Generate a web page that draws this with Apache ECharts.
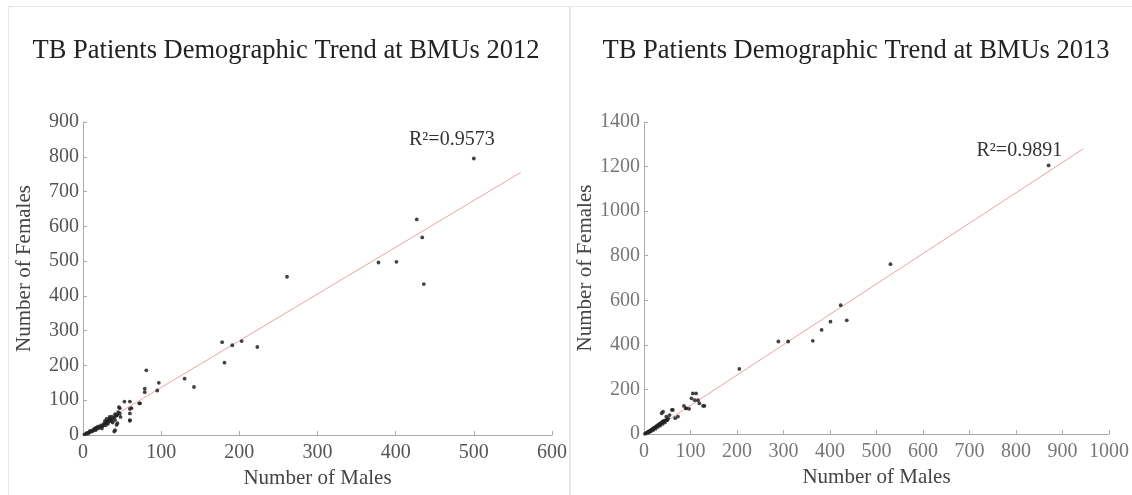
<!DOCTYPE html>
<html>
<head>
<meta charset="utf-8">
<script src="https://cdn.jsdelivr.net/npm/echarts@6/dist/echarts.min.js"></script>
<style>
html,body{margin:0;padding:0;background:#fff;}
#chart{width:1132px;height:495px;}
</style>
</head>
<body>
<div id="chart"></div>
<script>
// ---- Data ----
var titles = ['TB Patients Demographic Trend at BMUs 2012', 'TB Patients Demographic Trend at BMUs 2013'];
var xAxisName = 'Number of Males';
var yAxisName = 'Number of Females';
var r2Labels = ['R\u00B2=0.9573', 'R\u00B2=0.9891'];

// 2012: [males, females]
var points2012 = [
  [500,795],[427,620],[434,568],[436,434],[378,496],[401,498],[261,455],
  [178,267],[191,258],[203,270],[223,253],[181,208],[130,162],[142,138],
  [97,150],[95,128],[81,186],[79,133],[79,123],[72,91],[53,96],[60,96],
  [60,75],[60,41],[46,80],[41,60],[40,10],[62,77],[60,62],[60,43],[73,91],
  [7,5],[11,10],[13,14],[15,19],[17,21],[22,24],[26,29],[28,34],[30,38],
  [32,43],[34,48],[37,53],[32,32],[24,19],[41,43],[43,29],[41,14],[47,62],
  [47,77],[43,57],[2,2],[4,3],[5,6],[8,8],[9,12],[12,11],[14,16],[16,14],
  [18,18],[19,24],[20,20],[23,27],[25,25],[27,31],[29,28],[31,36],[33,40],
  [35,44],[36,39],[38,46],[40,50],[42,55],[44,58],[45,66],[28,40],[30,46],
  [34,52],[38,36],[44,34],[48,52]
];
var trend2012 = [[0,2],[560,755]];
var r2Pos2012 = [533,848];

// 2013: [males, females]
var points2013 = [
  [870,1205],[530,762],[423,578],[401,504],[436,510],[382,467],[363,418],
  [310,415],[289,415],[205,292],[105,182],[102,160],[109,152],[127,126],
  [90,115],[86,126],[60,108],[38,93],[48,78],[67,71],[41,100],[62,108],
  [91,115],[112,182],[116,152],[119,138],[130,126],[97,113],[73,78],[55,85],
  [48,63],
  [2,1],[4,4],[6,5],[8,9],[10,10],[12,14],[14,15],[16,20],[18,22],[20,25],
  [22,28],[24,30],[26,34],[28,36],[30,40],[32,42],[34,46],[36,48],[38,52],
  [40,55],[42,58],[44,60],[15,12],[20,18],[25,24],[30,32],[35,38],[40,45],
  [9,6],[12,10],[45,52],[50,62],[52,70]
];
var trend2013 = [[6,0],[945,1280]];
var r2Pos2013 = [910,1270];

var xTicks = [[0,600,100],[0,1000,100]];
var yTicks = [[0,900,100],[0,1400,200]];

// ---- Chart ----
var chart = echarts.init(document.getElementById('chart'), null, {renderer:'canvas'});
var serif = 'Liberation Serif, Times New Roman, serif';
var grids = [
  {left:83, top:122, width:469, height:313},
  {left:644, top:122, width:470, height:312}
];
var labelColors = ['#555','#777'];
function plain(v){ return String(v); }

function xAxis(i){
  return {
    gridIndex:i, type:'value', min:xTicks[i][0], max:xTicks[i][1], interval:xTicks[i][2],
    name:xAxisName, nameLocation:'middle', nameGap:28,
    nameTextStyle:{fontFamily:serif, fontSize:21, color:'#444'},
    axisLine:{lineStyle:{color:'#aaa', width:1}},
    axisTick:{inside:true, length:4, lineStyle:{color:'#aaa'}},
    axisLabel:{fontFamily:serif, fontSize:20, color:labelColors[i], margin:8, formatter:plain},
    splitLine:{show:false}
  };
}
function yAxis(i){
  return {
    gridIndex:i, type:'value', min:yTicks[i][0], max:yTicks[i][1], interval:yTicks[i][2],
    name:yAxisName, nameLocation:'middle', nameGap:48,
    nameTextStyle:{fontFamily:serif, fontSize:21, color:'#444', padding:[0,0,0,20]},
    axisLine:{show:true, lineStyle:{color:'#aaa', width:1}},
    axisTick:{show:true, inside:true, length:4, lineStyle:{color:'#aaa'}},
    axisLabel:{fontFamily:serif, fontSize:20, color:labelColors[i], margin:4, formatter:plain},
    splitLine:{show:false}
  };
}
function scatter(i, data){
  return {type:'scatter', xAxisIndex:i, yAxisIndex:i, data:data, symbolSize:3.8,
    itemStyle:{color:'#222', opacity:0.85}, silent:true, z:3};
}
function trend(i, data, label, pos){
  return {type:'line', xAxisIndex:i, yAxisIndex:i, data:data, symbol:'none', silent:true,
    lineStyle:{color:'#e9a3a3', width:1}, z:2,
    markPoint:{symbol:'circle', symbolSize:0, silent:true,
      data:[{coord:pos}],
      label:{show:true, formatter:label, fontFamily:serif, fontSize:20, color:'#333',
        position:'left'}}
  };
}

chart.setOption({
  backgroundColor:'#fff',
  animation:false,
  title:[
    {text:titles[0], left:281, top:33, textAlign:'center', textStyle:{fontFamily:serif, fontSize:26.5, fontWeight:'normal', color:'#222'}},
    {text:titles[1], left:851, top:33, textAlign:'center', textStyle:{fontFamily:serif, fontSize:26.5, fontWeight:'normal', color:'#222'}}
  ],
  graphic:[
    {type:'rect', shape:{x:8.5, y:6.5, width:561, height:500}, style:{fill:'none', stroke:'#e6e6e6', lineWidth:1}, silent:true},
    {type:'rect', shape:{x:570.5, y:6.5, width:570, height:500}, style:{fill:'none', stroke:'#e6e6e6', lineWidth:1}, silent:true}
  ],
  grid:grids,
  xAxis:[xAxis(0), xAxis(1)],
  yAxis:[yAxis(0), yAxis(1)],
  series:[
    trend(0, trend2012, r2Labels[0], r2Pos2012), scatter(0, points2012),
    trend(1, trend2013, r2Labels[1], r2Pos2013), scatter(1, points2013)
  ]
});
</script>
</body>
</html>
